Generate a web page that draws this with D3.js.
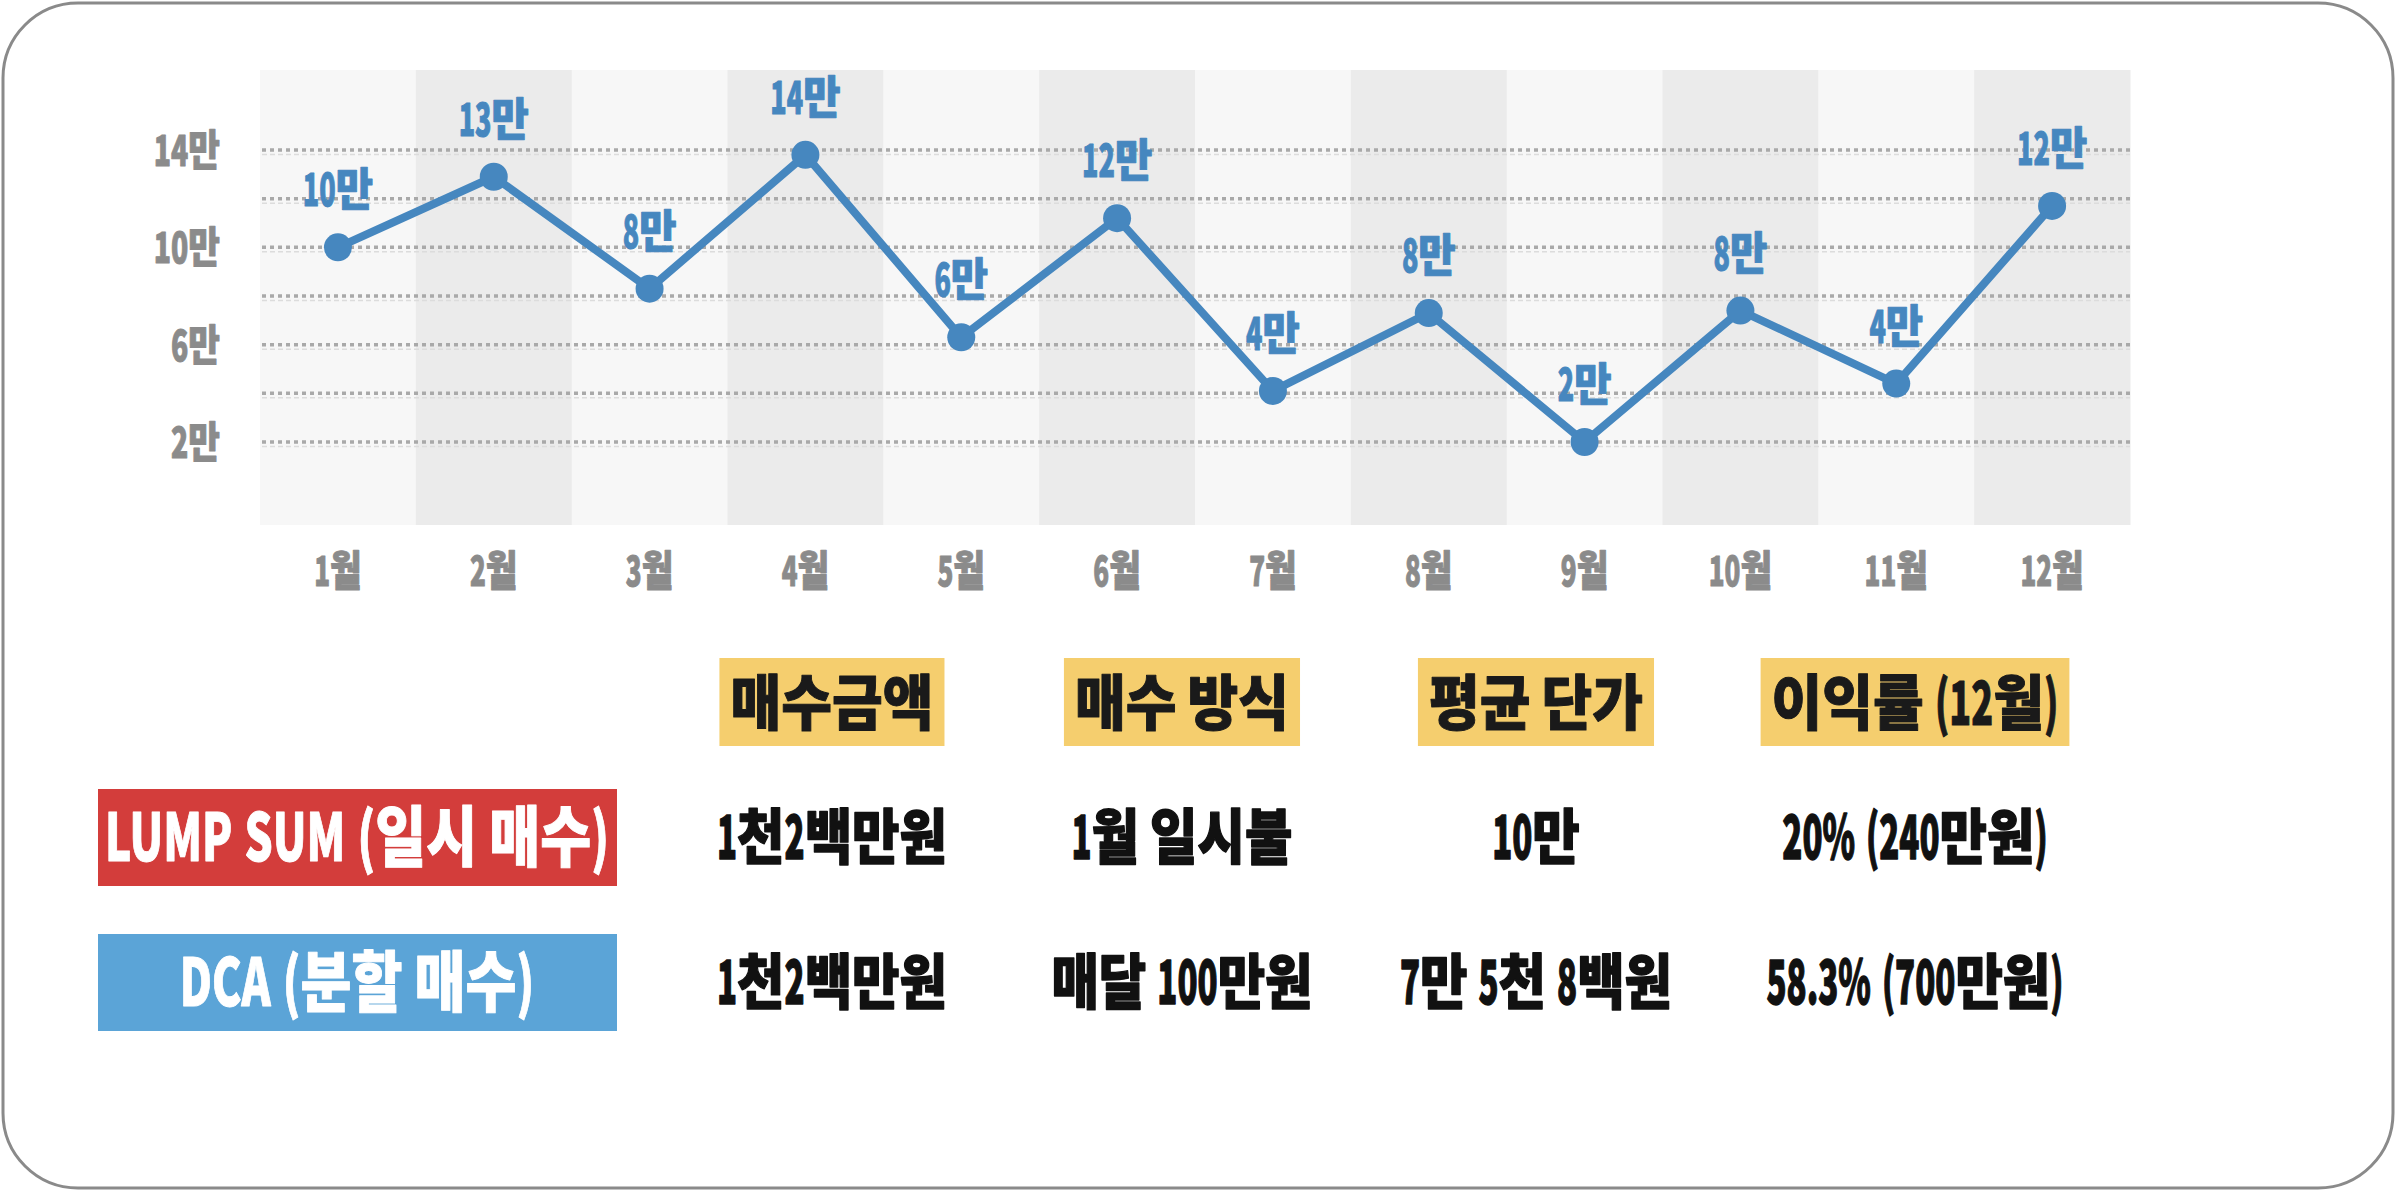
<!DOCTYPE html>
<html>
<head>
<meta charset="utf-8">
<script src="https://cdn.jsdelivr.net/npm/d3@7"></script>
<style>
  body { margin: 0; background: #fff; }
  text { font-family: "Noto Sans CJK KR", sans-serif; font-weight: 900; }
</style>
</head>
<body>
<div id="chart"></div>
<script>
// chart data
var months = ["1월", "2월", "3월", "4월", "5월", "6월", "7월", "8월", "9월", "10월", "11월", "12월"];
var prices = [10, 12.9, 8.3, 13.8, 6.3, 11.2, 4.1, 7.3, 2, 7.4, 4.4, 11.7];
var priceLabels = ["10만", "13만", "8만", "14만", "6만", "12만", "4만", "8만", "2만", "8만", "4만", "12만"];
var gridValues = [2, 4, 6, 8, 10, 12, 14];
var tickValues = [2, 6, 10, 14];
var tickLabels = ["2만", "6만", "10만", "14만"];

// table data
var headers = ["매수금액", "매수 방식", "평균 단가", "이익률 (12월)"];
var strategies = ["LUMP SUM (일시 매수)", "DCA (분할 매수)"];
var lumpSumRow = ["1천2백만원", "1월 일시불", "10만", "20% (240만원)"];
var dcaRow = ["1천2백만원", "매달 100만원", "7만 5천 8백원", "58.3% (700만원)"];

// svg container
var svgWidth = 2402;
var svgHeight = 1192;

// plot area
var plot = { left: 260, right: 2130, top: 70, bottom: 525 };

var lineColor = "#4687bf";
var axisGrey = "#8b8b8b";

var svg = d3.select("#chart")
  .append("svg")
  .attr("width", svgWidth)
  .attr("height", svgHeight);

// Draw text as a condensed face: hangul runs, spaces and latin/digit runs
// each get their own horizontal squeeze, then the whole thing is anchored.
function condensedText(parent, str, opts) {
  var g = parent.append("g");
  var inner = g.append("g");
  var runs = str.match(/[\uAC00-\uD7A3]+| +|[^\uAC00-\uD7A3 ]+/g);
  var cursor = 0;
  runs.forEach(function(run) {
    var s = opts.o;
    if (/[\uAC00-\uD7A3]/.test(run)) s = opts.h;
    else if (/^ +$/.test(run)) s = 0.8;
    var t = inner.append("text")
      .attr("text-anchor", "start")
      .attr("dy", opts.dy || "0.38em")
      .style("font-size", opts.size + "px")
      .attr("fill", opts.fill)
      .attr("stroke", opts.fill)
      .attr("stroke-width", opts.bold || 1)
      .attr("stroke-linejoin", "round")
      .text(run.replace(/ /g, "\u00A0"));
    var len = t.node().getComputedTextLength();
    t.attr("transform", `translate(${cursor},0) scale(${s},1)`);
    cursor += len * s;
  });
  var shift = opts.anchor === "end" ? -cursor : -cursor / 2;
  inner.attr("transform", `translate(${shift},0)`);
  return g;
}

// outer rounded frame
svg.append("rect")
  .attr("x", 3)
  .attr("y", 3)
  .attr("width", 2390)
  .attr("height", 1185)
  .attr("rx", 75)
  .attr("fill", "#fff")
  .attr("stroke", "#8a8a8a")
  .attr("stroke-width", 3);

// scales
var xScale = d3.scaleBand()
  .domain(months)
  .range([plot.left, plot.right]);

var yScale = d3.scaleLinear()
  .domain([2, 14])
  .range([442, 150]);

var bw = xScale.bandwidth();

// column bands
svg.append("g").selectAll("rect")
  .data(months)
  .enter()
  .append("rect")
  .attr("x", d => xScale(d))
  .attr("y", plot.top)
  .attr("width", bw + 0.5)
  .attr("height", plot.bottom - plot.top)
  .attr("fill", (d, i) => i % 2 === 0 ? "#f7f7f7" : "#ebebeb");

// dotted grid lines (dark dots + faint line under)
var grid = svg.append("g");
grid.selectAll(".dark")
  .data(gridValues)
  .enter()
  .append("line")
  .attr("x1", plot.left + 2)
  .attr("x2", plot.right)
  .attr("y1", d => yScale(d))
  .attr("y2", d => yScale(d))
  .attr("stroke", "#a9a9a9")
  .attr("stroke-width", 3.5)
  .attr("stroke-dasharray", "4,4");
grid.selectAll(".light")
  .data(gridValues)
  .enter()
  .append("line")
  .attr("x1", plot.left + 2)
  .attr("x2", plot.right)
  .attr("y1", d => yScale(d) + 4.5)
  .attr("y2", d => yScale(d) + 4.5)
  .attr("stroke", "#dcdcdc")
  .attr("stroke-width", 1.5)
  .attr("stroke-dasharray", "5,3");

// y axis
var leftAxis = d3.axisLeft(yScale)
  .tickValues(tickValues)
  .tickSize(0)
  .tickFormat("");

var yAxis = svg.append("g")
  .attr("transform", `translate(${plot.left}, 0)`)
  .call(leftAxis);
yAxis.select(".domain").remove();
yAxis.selectAll(".tick").each(function(d) {
  var tick = d3.select(this);
  tick.select("text").remove();
  condensedText(tick, tickLabels[tickValues.indexOf(d)], {
    size: 43, h: 0.8, o: 0.66, fill: axisGrey, anchor: "end"
  }).attr("transform", "translate(-40, -1)");
});

// x axis
var bottomAxis = d3.axisBottom(xScale).tickSize(0).tickFormat("");
var xAxis = svg.append("g")
  .attr("transform", `translate(0, ${plot.bottom})`)
  .call(bottomAxis);
xAxis.select(".domain").remove();
xAxis.selectAll(".tick").each(function(d) {
  var tick = d3.select(this);
  tick.select("text").remove();
  condensedText(tick, d, {
    size: 42, h: 0.82, o: 0.62, fill: axisGrey
  }).attr("transform", "translate(0, 45)");
});

// price line
var cx = (d, i) => xScale(months[i]) + bw / 2;
var line = d3.line()
  .x(cx)
  .y(d => yScale(d));

svg.append("path")
  .datum(prices)
  .attr("d", line)
  .attr("fill", "none")
  .attr("stroke", lineColor)
  .attr("stroke-width", 8)
  .attr("stroke-linejoin", "round");

svg.append("g").selectAll("circle")
  .data(prices)
  .enter()
  .append("circle")
  .attr("cx", cx)
  .attr("cy", d => yScale(d))
  .attr("r", 14)
  .attr("fill", lineColor);

// value labels above points
var valueLabels = svg.append("g");
prices.forEach(function(d, i) {
  condensedText(valueLabels, priceLabels[i], {
    size: 45, h: 0.9, o: 0.6, fill: lineColor, dy: "0"
  }).attr("transform", `translate(${cx(d, i)}, ${yScale(d) - 41})`);
});

// ---- table ----
var colX = d3.scaleOrdinal()
  .domain(d3.range(headers.length))
  .range([832, 1182, 1536, 1915]);
var rowY = [836, 981];

// header cells with yellow boxes sized to the text
headers.forEach(function(h, i) {
  var cell = svg.append("g")
    .attr("transform", `translate(${colX(i)}, 702)`);
  condensedText(cell, h, { size: 60, h: 0.92, o: 0.6, fill: "#1a1a1a" });
  var bb = cell.node().getBBox();
  cell.insert("rect", ":first-child")
    .attr("x", bb.x - 11)
    .attr("y", -44)
    .attr("width", bb.width + 22)
    .attr("height", 88)
    .attr("fill", "#f5ce6e");
});

// strategy label boxes
var boxColors = ["#d33d3b", "#5ba4d7"];
strategies.forEach(function(s, i) {
  var cell = svg.append("g")
    .attr("transform", `translate(357, ${rowY[i]})`);
  cell.append("rect")
    .attr("x", -259)
    .attr("y", -47)
    .attr("width", 519)
    .attr("height", 97)
    .attr("fill", boxColors[i]);
  condensedText(cell, s, { size: 66, h: 0.84, o: 0.67, fill: "#fff" });
});

// row values
[lumpSumRow, dcaRow].forEach(function(row, r) {
  row.forEach(function(d, i) {
    condensedText(svg, d, { size: 60, h: 0.86, o: 0.55, fill: "#111", bold: 1.4 })
      .attr("transform", `translate(${colX(i)}, ${rowY[r]})`);
  });
});
</script>
</body>
</html>
